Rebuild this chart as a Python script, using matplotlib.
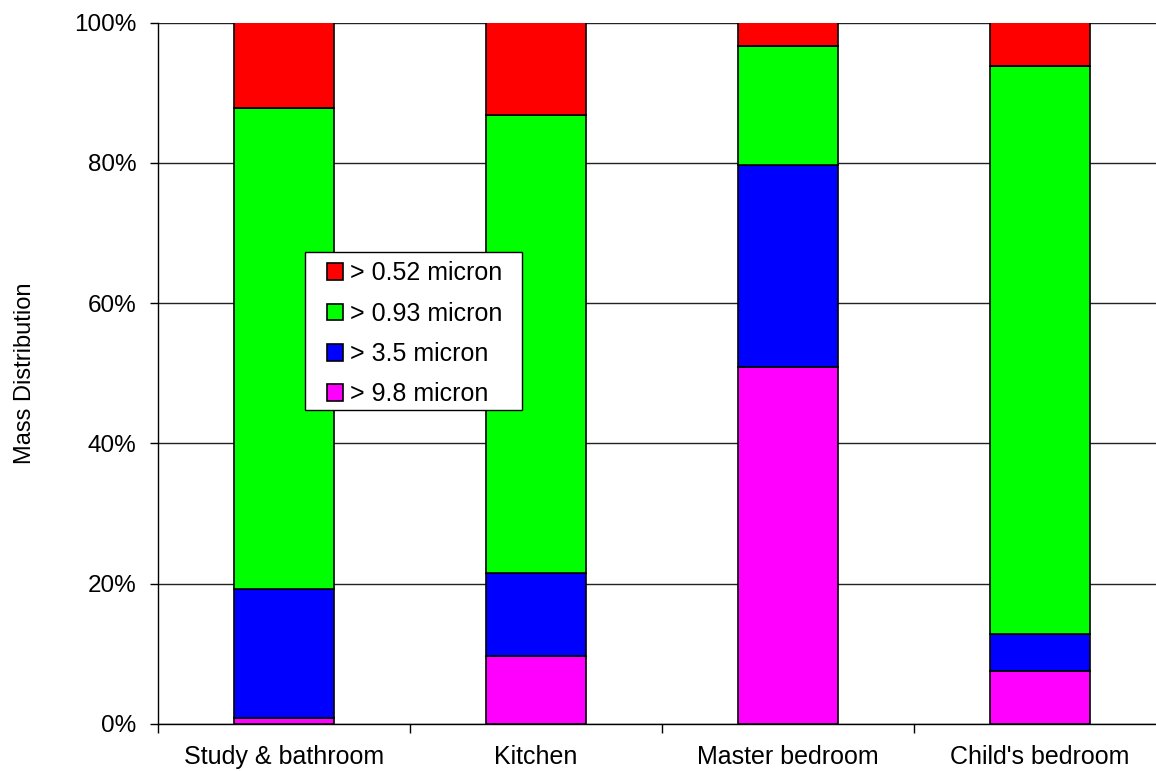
import matplotlib
matplotlib.use("Agg")
import matplotlib.pyplot as plt
from matplotlib.patches import Rectangle
import numpy as np

categories = ["Study & bathroom", "Kitchen", "Master bedroom", "Child's bedroom"]
series_names = ["> 9.8 micron", "> 3.5 micron", "> 0.93 micron", "> 0.52 micron"]
s_98 = [0.8, 9.7, 50.9, 7.5]
s_35 = [18.5, 11.8, 28.8, 5.3]
s_093 = [68.5, 65.3, 16.9, 81.0]
s_052 = [12.2, 13.2, 3.4, 6.2]
colors = ["#FF00FF", "#0000FF", "#00FF00", "#FF0000"]
y_ticks = [0, 20, 40, 60, 80, 100]

plt.rcParams['font.family'] = ['Liberation Sans', 'DejaVu Sans']

fig = plt.figure(figsize=(11.56, 7.71), dpi=100)
W, H = 1156, 771
ax = fig.add_axes([158 / W, (H - 724) / H, 1008 / W, (724 - 22.5) / H])

x = np.arange(len(categories))
bottom = np.zeros(len(categories))
handles = []
for name, vals, c in zip(series_names, [s_98, s_35, s_093, s_052], colors):
    b = ax.bar(x, vals, width=0.4, bottom=bottom, color=c, edgecolor='black',
               linewidth=1.2, label=name, zorder=3)
    handles.append(b)
    bottom = bottom + np.array(vals)

ax.set_xlim(-0.5, len(categories) - 0.5)
ax.set_ylim(0, 100)
ax.set_yticks(y_ticks)
ax.set_yticklabels([f"{v}%" for v in y_ticks], fontsize=17.5)
ax.yaxis.grid(True, color='#222222', linewidth=1, zorder=0)
ax.set_axisbelow(True)

ax.set_xticks(x)
ax.set_xticklabels(categories, fontsize=18)
ax.tick_params(axis='x', which='major', length=0, pad=15)
ax.set_xticks(np.arange(-0.5, len(categories) + 0.5, 1.0), minor=True)
ax.tick_params(axis='x', which='minor', length=6.5, width=1, direction='out')
ax.tick_params(axis='y', length=6, width=1, direction='out', pad=9.4)

for s in ['top', 'right']:
    ax.spines[s].set_visible(False)
ax.spines['left'].set_linewidth(1)
ax.spines['bottom'].set_linewidth(1)

ax.set_ylabel("Mass Distribution", fontsize=17)
ax.yaxis.set_label_coords((36 - 158) / 1008, 0.5)

# legend frame
frame = Rectangle((305 / W, 1 - 410 / H), (522 - 305) / W, (410 - 252) / H,
                  transform=fig.transFigure, facecolor='white', edgecolor='black',
                  linewidth=1, zorder=4)
fig.patches.append(frame)

leg = fig.legend(handles[::-1], [h.get_label() for h in handles[::-1]],
                 loc='upper left', bbox_to_anchor=(327 / W, 1 - 261.5 / H),
                 bbox_transform=fig.transFigure, fontsize=18, frameon=False,
                 handlelength=0.65, handleheight=0.65, handletextpad=0.25,
                 labelspacing=0.65, borderpad=0, borderaxespad=0)
leg.set_zorder(5)
for p in leg.get_patches():
    p.set_linewidth(1.2)

fig.savefig("out.png", dpi=100)
